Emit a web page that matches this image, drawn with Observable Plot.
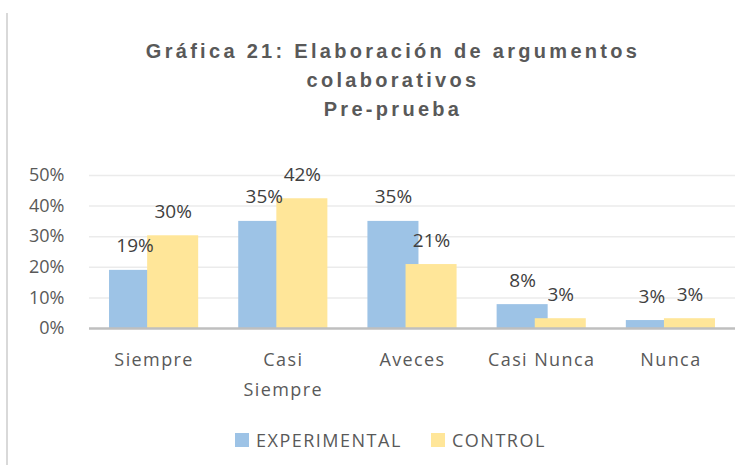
<!DOCTYPE html>
<html>
<head>
<meta charset="utf-8">
<script src="https://cdn.jsdelivr.net/npm/d3@7"></script>
<script src="https://cdn.jsdelivr.net/npm/@observablehq/plot@0.6"></script>
<style>
  html, body { margin: 0; padding: 0; background: #fff; }
  #wrap { position: relative; width: 754px; height: 475px; background: #fff; overflow: hidden; }
  #border { position: absolute; left: 6px; top: 13px; width: 1.5px; height: 452px; background: #D9D9D9; }
  #title { position: absolute; left: 43px; width: 700px; top: 37px; text-align: center;
    font-family: "Liberation Sans", Arial, sans-serif; font-weight: bold; font-size: 20px;
    letter-spacing: 3.3px; line-height: 29px; color: #595959; white-space: nowrap; }
  #chart { position: absolute; left: 0; top: 140px; }
  #legend { position: absolute; top: 428px; left: 0; width: 754px; height: 24px;
    font-family: "Open Sans", sans-serif; font-size: 18px; color: #595959; letter-spacing: 1.5px; }
  .item { position: absolute; top: 0; display: flex; align-items: center; height: 24px; }
  .sw { width: 14px; height: 14px; margin-right: 7px; }
</style>
</head>
<body>
<div id="wrap">
  <div id="border"></div>
  <div id="title"></div>
  <div id="chart"></div>
  <div id="legend"></div>
</div>
<script>
const titleLines = ["Gráfica 21: Elaboración de argumentos", "colaborativos", "Pre-prueba"];
const categories = ["Siempre", "Casi Siempre", "Aveces", "Casi Nunca", "Nunca"];
const tickLabels = ["Siempre", "Casi\nSiempre", "Aveces", "Casi Nunca", "Nunca"];
const seriesNames = ["EXPERIMENTAL", "CONTROL"];
const experimental = [0.19, 0.35, 0.35, 0.078, 0.026];
const control = [0.303, 0.424, 0.209, 0.032, 0.032];
const experimentalLabels = ["19%", "35%", "35%", "8%", "3%"];
const controlLabels = ["30%", "42%", "21%", "3%", "3%"];
const yTicks = [0, 0.1, 0.2, 0.3, 0.4, 0.5];
const seriesColors = ["#9DC3E6", "#FFE699"];

document.getElementById("title").innerHTML = titleLines.map(t => `<div>${t}</div>`).join("");

// bar geometry in category units (overlapping clustered bars)
const barOffsets = [[-0.345, 0.05], [-0.05, 0.345]];
const rows = [];
categories.forEach((c, i) => {
  [experimental, control].forEach((vals, s) => {
    rows.push({
      i, category: c, series: seriesNames[s], value: vals[i],
      label: (s === 0 ? experimentalLabels : controlLabels)[i],
      x1: i + barOffsets[s][0], x2: i + barOffsets[s][1],
      xm: i + (barOffsets[s][0] + barOffsets[s][1]) / 2
    });
  });
});

const chart = Plot.plot({
  width: 754,
  height: 260,
  marginLeft: 89,
  marginRight: 19,
  marginTop: 35,
  marginBottom: 72,
  style: { fontFamily: "'Open Sans', sans-serif", background: "transparent", overflow: "visible" },
  x: { domain: [-0.5, 4.5], axis: null },
  y: { domain: [0, 0.5], axis: null },
  color: { domain: seriesNames, range: seriesColors },
  marks: [
    Plot.ruleY(yTicks.slice(1), { stroke: "#EBEBEB", strokeWidth: 1.5 }),
    Plot.rectY(rows, { x1: "x1", x2: "x2", y1: 0, y2: "value", fill: "series" }),
    Plot.ruleY([0], { stroke: "#BFBFBF", strokeWidth: 2.5 }),
    Plot.axisY(yTicks, { tickSize: 0, tickPadding: 25, tickFormat: d3.format(".0%"),
      fontSize: 18, fill: "#595959", label: null }),
    Plot.axisX(d3.range(categories.length), { tickSize: 0, tickPadding: 16,
      tickFormat: i => tickLabels[i], fontSize: 18, fill: "#595959", lineHeight: 1.68, label: null }),
    Plot.text(rows, { x: "xm", y: "value", text: "label", dy: -24, fontSize: 19, fill: "#404040" })
  ]
});
chart.querySelectorAll("g[aria-label='x-axis tick label']").forEach(el => el.style.letterSpacing = "1.4px");
document.getElementById("chart").appendChild(chart);

const legend = document.getElementById("legend");
const legendX = [235, 431];
seriesNames.forEach((n, k) => {
  const it = document.createElement("div");
  it.className = "item";
  it.style.left = legendX[k] + "px";
  it.innerHTML = `<div class="sw" style="background:${seriesColors[k]}"></div><span>${n}</span>`;
  legend.appendChild(it);
});
</script>
</body>
</html>
